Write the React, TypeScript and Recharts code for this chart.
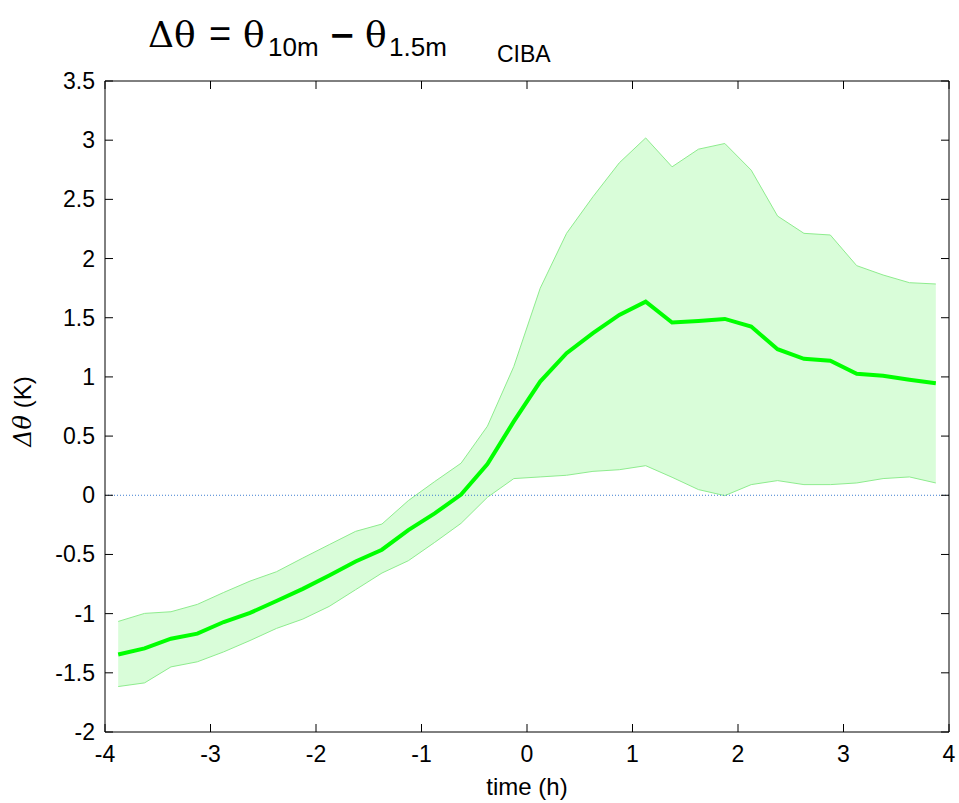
import React from 'react';
import {
  ComposedChart,
  Area,
  Line,
  XAxis,
  YAxis,
  ReferenceLine,
} from 'recharts';

// hours relative to the event, one sample every 15 min
const hours = [
  -3.875, -3.625, -3.375, -3.125, -2.875, -2.625, -2.375, -2.125,
  -1.875, -1.625, -1.375, -1.125, -0.875, -0.625, -0.375, -0.125,
  0.125, 0.375, 0.625, 0.875, 1.125, 1.375, 1.625, 1.875,
  2.125, 2.375, 2.625, 2.875, 3.125, 3.375, 3.625, 3.875,
];

// mean temperature difference (K)
const meanDiff = [
  -1.345, -1.294, -1.212, -1.169, -1.071, -0.994, -0.893, -0.791,
  -0.678, -0.559, -0.46, -0.294, -0.153, 0.006, 0.263, 0.624,
  0.961, 1.2, 1.369, 1.524, 1.636, 1.459, 1.473, 1.49,
  1.425, 1.234, 1.153, 1.136, 1.026, 1.009, 0.976, 0.947,
];

// upper edge of the spread
const upperDiff = [
  -1.066, -0.998, -0.984, -0.922, -0.821, -0.725, -0.646, -0.53,
  -0.417, -0.305, -0.243, -0.045, 0.116, 0.271, 0.584, 1.088,
  1.749, 2.213, 2.522, 2.809, 3.019, 2.775, 2.924, 2.972,
  2.747, 2.359, 2.213, 2.199, 1.94, 1.861, 1.796, 1.785,
];

// lower edge of the spread
const lowerDiff = [
  -1.616, -1.585, -1.45, -1.407, -1.323, -1.227, -1.125, -1.046,
  -0.939, -0.798, -0.657, -0.553, -0.398, -0.237, -0.017, 0.141,
  0.155, 0.169, 0.202, 0.216, 0.25, 0.152, 0.048, -0.003,
  0.09, 0.124, 0.09, 0.09, 0.104, 0.141, 0.155, 0.104,
];

const xTicks = [-4, -3, -2, -1, 0, 1, 2, 3, 4];
const yTicks = [-2, -1.5, -1, -0.5, 0, 0.5, 1, 1.5, 2, 2.5, 3, 3.5];

const data = hours.map((t, i) => ({
  t,
  mean: meanDiff[i],
  upper: upperDiff[i],
  lower: lowerDiff[i],
  band: [lowerDiff[i], upperDiff[i]],
}));

const FONT = '"Liberation Sans", Arial, sans-serif';
const SERIF = '"DejaVu Serif", serif';
const TICK_LEN = 8;

// plot box edges (svg px)
const BOX = { left: 105, right: 949, top: 81, bottom: 732 };

// ticks point into the box, the way the old matlab axes do
const BottomTick = ({ x, payload }: any) => (
  <g>
    <line x1={x} x2={x} y1={BOX.bottom} y2={BOX.bottom - TICK_LEN} stroke="#000" />
    <line x1={x} x2={x} y1={BOX.top} y2={BOX.top + TICK_LEN} stroke="#000" />
    <text x={x} y={BOX.bottom + 30} textAnchor="middle" fontFamily={FONT} fontSize={23} fill="#000">
      {payload.value}
    </text>
  </g>
);

const LeftTick = ({ y, payload }: any) => (
  <g>
    <line x1={BOX.left} x2={BOX.left + TICK_LEN} y1={y} y2={y} stroke="#000" />
    <line x1={BOX.right} x2={BOX.right - TICK_LEN} y1={y} y2={y} stroke="#000" />
    <text x={BOX.left - 10} y={y + 8} textAnchor="end" fontFamily={FONT} fontSize={23} fill="#000">
      {payload.value}
    </text>
  </g>
);

const YLabel = ({ viewBox }: any) => {
  const cx = viewBox.x + 31;
  const cy = viewBox.y + viewBox.height / 2 + 5;
  return (
    <text
      transform={`translate(${cx}, ${cy}) rotate(-90)`}
      textAnchor="middle"
      fontFamily={FONT}
      fontSize={24}
      fill="#000"
    >
      <tspan fontFamily={SERIF} fontStyle="italic">Δθ</tspan>
      <tspan> (K)</tspan>
    </text>
  );
};

const Title: React.FC = () => (
  <svg width={959} height={80} style={{ position: 'absolute', left: 0, top: 0 }}>
    <g fill="#000">
      <text x={148} y={47} fontFamily={SERIF} fontSize={36}>Δθ</text>
      <text x={209} y={47} fontFamily={FONT} fontSize={38}>=</text>
      <text x={243} y={47} fontFamily={SERIF} fontSize={36}>θ</text>
      <text x={268} y={56} fontFamily={FONT} fontSize={26}>10m</text>
      <text x={329} y={46} fontFamily='"DejaVu Sans", sans-serif' fontWeight="bold" fontSize={32}>−</text>
      <text x={365} y={47} fontFamily={SERIF} fontSize={36}>θ</text>
      <text x={389} y={56} fontFamily={FONT} fontSize={26}>1.5m</text>
      <text x={497} y={62} fontFamily={FONT} fontSize={23}>CIBA</text>
    </g>
  </svg>
);

const App: React.FC = () => {
  return (
    <div style={{ position: 'absolute', left: 0, top: 0, width: 959, height: 803, background: '#fff' }}>
      <ComposedChart
        width={959}
        height={803}
        data={data}
        margin={{ top: BOX.top, right: 959 - BOX.right, bottom: 0, left: 0 }}
      >
        <XAxis
          dataKey="t"
          type="number"
          domain={[-4, 4]}
          ticks={xTicks}
          allowDataOverflow
          height={803 - BOX.bottom}
          tickLine={false}
          axisLine={{ stroke: '#000' }}
          tick={<BottomTick />}
          interval={0}
          label={{ value: 'time (h)', position: 'insideBottom', offset: 8, fontFamily: FONT, fontSize: 24, fill: '#000' }}
        />
        <YAxis
          type="number"
          domain={[-2, 3.5]}
          ticks={yTicks}
          allowDataOverflow
          width={BOX.left}
          tickLine={false}
          axisLine={{ stroke: '#000' }}
          tick={<LeftTick />}
          interval={0}
          label={{ content: <YLabel /> }}
        />
        <Area
          dataKey="band"
          stroke="none"
          fill="#d9fdd9"
          fillOpacity={1}
          isAnimationActive={false}
        />
        <Line dataKey="upper" stroke="#8eec8e" strokeWidth={1} dot={false} isAnimationActive={false} />
        <Line dataKey="lower" stroke="#8eec8e" strokeWidth={1} dot={false} isAnimationActive={false} />
        <ReferenceLine y={0} stroke="#3f7fd0" strokeDasharray="1 2" strokeWidth={1} />
        <Line dataKey="mean" stroke="#00ff00" strokeWidth={4} dot={false} isAnimationActive={false} />
        {/* top and right edges of the box */}
        <ReferenceLine y={3.5} stroke="#000" strokeWidth={1} />
        <ReferenceLine x={4} stroke="#000" strokeWidth={1} />
      </ComposedChart>
      <Title />
    </div>
  );
};

export default App;
